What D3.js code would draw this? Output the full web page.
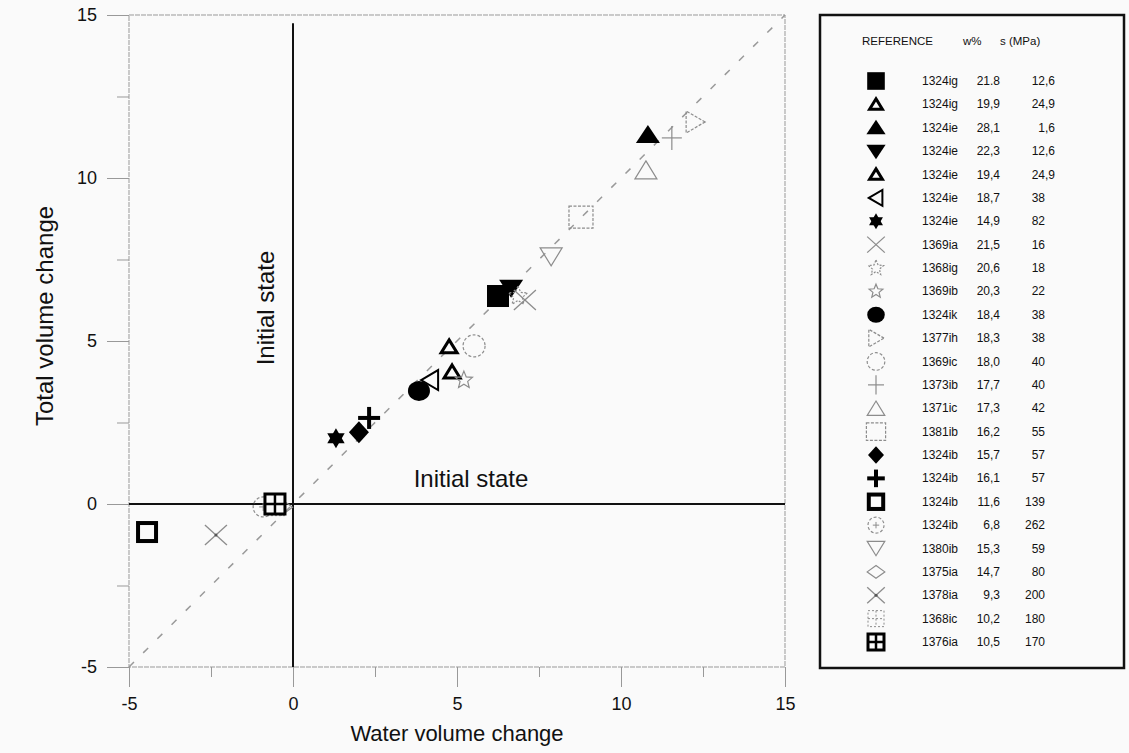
<!DOCTYPE html>
<html>
<head>
<meta charset="utf-8">
<script src="https://cdn.jsdelivr.net/npm/d3@7"></script>
<style>
  body { margin: 0; background: #fafafa; }
  svg { display: block; font-family: "Liberation Sans", Arial, sans-serif; }
</style>
</head>
<body>
<div id="chart"></div>
<script>
// samples: reference, water content, suction, water / total volume change
var names = ["1324ig", "1324ig", "1324ie", "1324ie", "1324ie", "1324ie", "1324ie", "1369ia", "1368ig", "1369ib",
             "1324ik", "1377ih", "1369ic", "1373ib", "1371ic", "1381ib", "1324ib", "1324ib", "1324ib", "1324ib",
             "1380ib", "1375ia", "1378ia", "1368ic", "1376ia"];
var wPct = ["21.8", "19,9", "28,1", "22,3", "19,4", "18,7", "14,9", "21,5", "20,6", "20,3",
            "18,4", "18,3", "18,0", "17,7", "17,3", "16,2", "15,7", "16,1", "11,6", "6,8",
            "15,3", "14,7", "9,3", "10,2", "10,5"];
var suction = ["12,6", "24,9", "1,6", "12,6", "24,9", "38", "82", "16", "18", "22",
               "38", "38", "40", "40", "42", "55", "57", "57", "139", "262",
               "59", "80", "200", "180", "170"];
var waterChange = [6.25, 4.76, 10.82, 6.65, 4.85, 4.18, 1.31, 7.07, 6.86, 5.21,
                   3.84, 12.26, 5.52, 11.55, 10.76, 8.78, 2.01, 2.32, -4.45, -0.91,
                   7.87, -0.35, -2.35, -0.55, -0.55];
var totalChange = [6.38, 4.82, 11.32, 6.63, 4.05, 3.80, 2.02, 6.26, 6.38, 3.80,
                   3.47, 11.72, 4.85, 11.23, 10.25, 8.80, 2.20, 2.64, -0.86, -0.09,
                   7.58, -0.10, -0.95, -0.05, 0.00];
var markers = ["sqFill", "triBold", "triFill", "triDownFill", "triBold", "triLeft", "star6Fill", "cross", "starA", "star",
               "ellipseFill", "triRight", "circle", "plus", "tri", "square", "diamondFill", "plusBold", "sqBold", "circlePlus",
               "triDown", "diamond", "crossDot", "grid", "gridBold"];
var majorTicks = [-5, 0, 5, 10, 15];
var minorTicks = [-2.5, 2.5, 7.5, 12.5];

var width = 1129, height = 753;
var margin = {top: 15, right: 344, bottom: 86, left: 129};
var grey = "#8c8c8c";

var svg = d3.select("#chart").append("svg")
    .attr("width", width)
    .attr("height", height);

var x = d3.scaleLinear().domain([-5, 15]).range([margin.left, width - margin.right]);
var y = d3.scaleLinear().domain([-5, 15]).range([height - margin.bottom, margin.top]);

// one marker, centred on the current origin of g, k scales it
function drawMarker(g, type, k) {
  function poly(pts) {
    return "M" + pts.map(function(p) { return (p[0] * k) + "," + (p[1] * k); }).join("L") + "Z";
  }
  function line(x1, y1, x2, y2) {
    return g.append("line").attr("x1", x1 * k).attr("y1", y1 * k).attr("x2", x2 * k).attr("y2", y2 * k);
  }
  function star(ro, ri) {
    var pts = [];
    for (var i = 0; i < 10; i++) {
      var a = -Math.PI / 2 + i * Math.PI / 5, r = i % 2 ? ri : ro;
      pts.push([r * Math.cos(a), r * Math.sin(a)]);
    }
    return poly(pts);
  }
  switch (type) {
    case "sqFill":
      g.append("rect").attr("x", -11 * k).attr("y", -11 * k).attr("width", 22 * k).attr("height", 22 * k).attr("fill", "#000");
      break;
    case "triBold":
      g.append("path").attr("d", poly([[0, -7], [8, 6], [-8, 6]])).attr("fill", "none").attr("stroke", "#000").attr("stroke-width", 3);
      break;
    case "triFill":
      g.append("path").attr("d", poly([[0, -10], [12, 8], [-12, 8]])).attr("fill", "#000");
      break;
    case "triDownFill":
      g.append("path").attr("d", poly([[-12, -8], [12, -8], [0, 10]])).attr("fill", "#000");
      break;
    case "triLeft":
      g.append("path").attr("d", poly([[-9, 0], [8, -10], [8, 10]])).attr("fill", "none").attr("stroke", "#000").attr("stroke-width", 2);
      break;
    case "star6Fill":
      g.append("path").attr("d", poly([[0, -10], [8.7, 5], [-8.7, 5]])).attr("fill", "#000");
      g.append("path").attr("d", poly([[0, 10], [8.7, -5], [-8.7, -5]])).attr("fill", "#000");
      break;
    case "cross":
      line(-11, -10, 11, 10).attr("stroke", grey).attr("stroke-width", 1.3);
      line(-11, 10, 11, -10).attr("stroke", grey).attr("stroke-width", 1.3);
      break;
    case "starA":
      g.append("path").attr("d", star(10, 4.5)).attr("fill", "none").attr("stroke", grey).attr("stroke-width", 1.2).attr("stroke-dasharray", "2,1.5");
      break;
    case "star":
      g.append("path").attr("d", star(9, 4)).attr("fill", "none").attr("stroke", grey).attr("stroke-width", 1.2);
      break;
    case "ellipseFill":
      g.append("ellipse").attr("rx", 11 * k).attr("ry", 10 * k).attr("fill", "#000");
      break;
    case "triRight":
      g.append("path").attr("d", poly([[10, 0], [-9, -11], [-9, 11]])).attr("fill", "none").attr("stroke", grey).attr("stroke-width", 1.2).attr("stroke-dasharray", "3,1.5");
      break;
    case "circle":
      g.append("circle").attr("r", 11 * k).attr("fill", "none").attr("stroke", grey).attr("stroke-width", 1.2).attr("stroke-dasharray", "3,2");
      break;
    case "plus":
      line(-10, 0, 10, 0).attr("stroke", grey).attr("stroke-width", 1.2);
      line(0, -12, 0, 12).attr("stroke", grey).attr("stroke-width", 1.2);
      break;
    case "tri":
      g.append("path").attr("d", poly([[0, -9], [11, 9], [-11, 9]])).attr("fill", "none").attr("stroke", grey).attr("stroke-width", 1.2);
      break;
    case "square":
      g.append("rect").attr("x", -12 * k).attr("y", -11 * k).attr("width", 24 * k).attr("height", 22 * k)
        .attr("fill", "none").attr("stroke", grey).attr("stroke-width", 1.2).attr("stroke-dasharray", "3,1.5");
      break;
    case "diamondFill":
      g.append("path").attr("d", poly([[0, -11], [10, 0], [0, 11], [-10, 0]])).attr("fill", "#000");
      break;
    case "plusBold":
      line(-11, 0, 11, 0).attr("stroke", "#000").attr("stroke-width", 4);
      line(0, -11, 0, 11).attr("stroke", "#000").attr("stroke-width", 4);
      break;
    case "sqBold":
      g.append("rect").attr("x", -9 * k).attr("y", -9 * k).attr("width", 18 * k).attr("height", 18 * k)
        .attr("fill", "#fafafa").attr("stroke", "#000").attr("stroke-width", 4);
      break;
    case "circlePlus":
      g.append("circle").attr("r", 10 * k).attr("fill", "none").attr("stroke", grey).attr("stroke-width", 1.2).attr("stroke-dasharray", "3,2");
      line(-4, 0, 4, 0).attr("stroke", grey).attr("stroke-width", 1);
      line(0, -4, 0, 4).attr("stroke", grey).attr("stroke-width", 1);
      break;
    case "triDown":
      g.append("path").attr("d", poly([[-11, -9], [11, -9], [0, 9]])).attr("fill", "none").attr("stroke", grey).attr("stroke-width", 1.2);
      break;
    case "diamond":
      g.append("path").attr("d", poly([[0, -8], [11, 0], [0, 8], [-11, 0]])).attr("fill", "none").attr("stroke", grey).attr("stroke-width", 1.2);
      break;
    case "crossDot":
      line(-11, -10, 11, 10).attr("stroke", grey).attr("stroke-width", 1.3);
      line(-11, 10, 11, -10).attr("stroke", grey).attr("stroke-width", 1.3);
      g.append("circle").attr("r", 1.5).attr("fill", "#555");
      break;
    case "grid":
      g.append("rect").attr("x", -10 * k).attr("y", -10 * k).attr("width", 20 * k).attr("height", 20 * k)
        .attr("fill", "none").attr("stroke", grey).attr("stroke-width", 1).attr("stroke-dasharray", "2,2");
      line(-10, 0, 10, 0).attr("stroke", grey).attr("stroke-dasharray", "2,2");
      line(0, -10, 0, 10).attr("stroke", grey).attr("stroke-dasharray", "2,2");
      break;
    case "gridBold":
      g.append("rect").attr("x", -10 * k).attr("y", -10 * k).attr("width", 20 * k).attr("height", 20 * k)
        .attr("fill", "#fafafa").attr("stroke", "#000").attr("stroke-width", 3);
      line(-10, 0, 10, 0).attr("stroke", "#000").attr("stroke-width", 2.5);
      line(0, -10, 0, 10).attr("stroke", "#000").attr("stroke-width", 2.5);
      break;
  }
}

// plot frame
svg.append("rect")
    .attr("x", x(-5)).attr("y", y(15))
    .attr("width", x(15) - x(-5)).attr("height", y(-5) - y(15))
    .attr("fill", "none").attr("stroke", "#999").attr("stroke-width", 1).attr("stroke-dasharray", "5,1");

// axes: labelled major ticks, shorter minor ticks
function styleAxis(g) {
  g.select(".domain").remove();
  g.selectAll(".tick line").attr("stroke", "#999");
  g.selectAll(".tick text").attr("fill", "#111").attr("font-size", 18);
}
var plain = function(d) { return String(d); };
svg.append("g").attr("transform", "translate(0," + y(-5) + ")")
    .call(d3.axisBottom(x).tickValues(majorTicks).tickSize(20).tickPadding(10).tickFormat(plain))
    .call(styleAxis);
svg.append("g").attr("transform", "translate(0," + y(-5) + ")")
    .call(d3.axisBottom(x).tickValues(minorTicks).tickSize(10).tickFormat(""))
    .call(styleAxis);
svg.append("g").attr("transform", "translate(" + x(-5) + ",0)")
    .call(d3.axisLeft(y).tickValues(majorTicks).tickSize(22).tickPadding(10).tickFormat(plain))
    .call(styleAxis);
svg.append("g").attr("transform", "translate(" + x(-5) + ",0)")
    .call(d3.axisLeft(y).tickValues(minorTicks).tickSize(12).tickFormat(""))
    .call(styleAxis);

// 1:1 line
svg.append("line")
    .attr("x1", x(-5)).attr("y1", y(-5)).attr("x2", x(15)).attr("y2", y(15))
    .attr("stroke", "#999").attr("stroke-width", 1.5).attr("stroke-dasharray", "7,13");

// initial state lines
svg.append("line")
    .attr("x1", x(0)).attr("y1", y(14.75)).attr("x2", x(0)).attr("y2", y(-5))
    .attr("stroke", "#111").attr("stroke-width", 2);
svg.append("line")
    .attr("x1", x(-5)).attr("y1", y(0)).attr("x2", x(15)).attr("y2", y(0))
    .attr("stroke", "#111").attr("stroke-width", 2);

svg.append("text")
    .attr("transform", "translate(" + (x(0) - 19) + "," + 308 + ") rotate(-90)")
    .attr("text-anchor", "middle").attr("font-size", 24).attr("fill", "#111")
    .text("Initial state");
svg.append("text")
    .attr("x", 471).attr("y", 487)
    .attr("text-anchor", "middle").attr("font-size", 24).attr("fill", "#111")
    .text("Initial state");

// axis titles
svg.append("text")
    .attr("x", x(5)).attr("y", 741)
    .attr("text-anchor", "middle").attr("font-size", 22).attr("fill", "#111")
    .text("Water volume change");
svg.append("text")
    .attr("transform", "translate(53,316) rotate(-90)")
    .attr("text-anchor", "middle").attr("font-size", 24).attr("fill", "#111")
    .text("Total volume change");

// data points
names.forEach(function(n, i) {
  var g = svg.append("g").attr("transform", "translate(" + x(waterChange[i]) + "," + y(totalChange[i]) + ")");
  drawMarker(g, markers[i], 1);
});

// legend table
var lg = svg.append("g");
lg.append("rect")
    .attr("x", 820).attr("y", 15).attr("width", 304).attr("height", 653)
    .attr("fill", "#fafafa").attr("stroke", "#111").attr("stroke-width", 2.5);

var head = lg.append("g").attr("font-size", 11.5).attr("fill", "#111");
head.append("text").attr("x", 862).attr("y", 45).text("REFERENCE");
head.append("text").attr("x", 963).attr("y", 45).text("w%");
head.append("text").attr("x", 1000).attr("y", 45).text("s (MPa)");

var rowY = d3.scaleLinear().domain([0, names.length - 1]).range([81, 642]);
names.forEach(function(n, i) {
  var cy = rowY(i);
  var row = lg.append("g").attr("font-size", 12).attr("fill", "#111");
  drawMarker(row.append("g").attr("transform", "translate(876," + cy + ")"), markers[i], 0.8);
  row.append("text").attr("x", 922).attr("y", cy + 4).text(n);
  row.append("text").attr("x", 1000).attr("y", cy + 4).attr("text-anchor", "end").text(wPct[i]);
  var parts = suction[i].split(",");
  row.append("text").attr("x", 1045).attr("y", cy + 4).attr("text-anchor", "end").text(parts[0]);
  if (parts.length > 1) row.append("text").attr("x", 1045).attr("y", cy + 4).text("," + parts[1]);
});
</script>
</body>
</html>
